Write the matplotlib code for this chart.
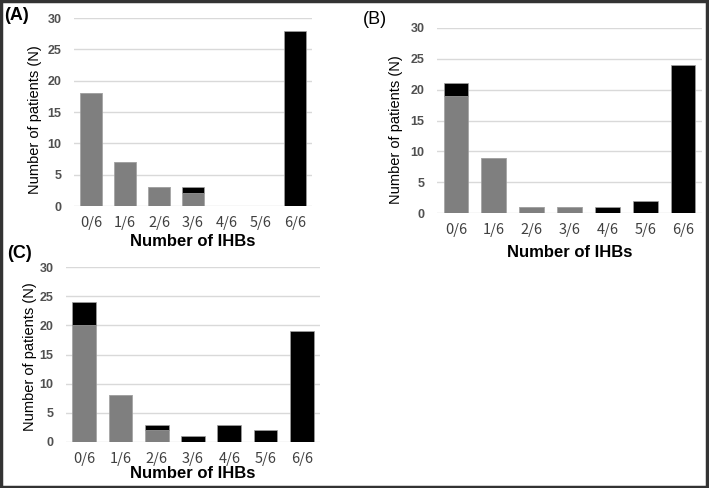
import matplotlib
matplotlib.use("Agg")
import matplotlib.pyplot as plt
from matplotlib.patches import Rectangle

categories = ["0/6", "1/6", "2/6", "3/6", "4/6", "5/6", "6/6"]
a_gray = [18, 7, 3, 2, 0, 0, 0]
a_black = [0, 0, 0, 1, 0, 0, 28]
b_gray = [19, 9, 1, 1, 0, 0, 0]
b_black = [2, 0, 0, 0, 1, 2, 24]
c_gray = [20, 8, 2, 0, 0, 0, 0]
c_black = [4, 0, 1, 1, 3, 2, 19]
y_ticks = [0, 5, 10, 15, 20, 25, 30]

GRAY = "#7f7f7f"
BLACK = "#000000"
GRID = "#d9d9d9"
TICKC = "#505050"

fig = plt.figure(figsize=(7.09, 4.88), dpi=100)
W, H = 709, 488

def add_panel(px0, px1, py_top, py_bot, gray, black, label, lab_xy, lab_weight, xlabpad, ylab_y, ylab_x):
    ax = fig.add_axes([px0 / W, 1 - py_bot / H, (px1 - px0) / W, (py_bot - py_top) / H])
    x = list(range(len(categories)))
    ax.bar(x, gray, width=0.65, color=GRAY, edgecolor="#a0a0a0", linewidth=0.5, zorder=3)
    ax.bar(x, black, width=0.65, bottom=gray, color=BLACK, edgecolor="#a0a0a0", linewidth=0.5, zorder=3)
    ax.set_xlim(-0.5, 6.5)
    ax.set_ylim(0, 30)
    ax.set_yticks(y_ticks)
    ax.set_xticks(x)
    ax.set_xticklabels(categories, family=["Noto Sans CJK JP", "DejaVu Sans"], fontsize=10.5, color="#404040")
    for t in ax.get_yticklabels():
        t.set_fontsize(9)
        t.set_fontweight("bold")
        t.set_color(TICKC)
        t.set_family("Liberation Sans")
    ax.tick_params(axis="y", length=0, pad=9)
    ax.tick_params(axis="x", length=0, pad=7)
    for s in ax.spines.values():
        s.set_visible(False)
    ax.yaxis.grid(True, color=GRID, linewidth=1, zorder=0)
    ax.set_axisbelow(True)
    ax.set_ylabel("Number of patients (N)", family="Liberation Sans", fontsize=10.5, color="#000000")
    ax.yaxis.set_label_coords((ylab_x - px0) / (px1 - px0), ylab_y, transform=ax.transAxes)
    ax.set_xlabel("Number of IHBs", family="Liberation Sans", fontsize=12, fontweight="bold", labelpad=xlabpad)
    fig.text(lab_xy[0] / W, 1 - lab_xy[1] / H, label, family="Liberation Sans", fontsize=13,
             fontweight=lab_weight, ha="left", va="center")
    return ax

add_panel(74, 312, 18, 206, a_gray, a_black, "(A)", (4, 16), "bold", 3, 0.46, 42)
add_panel(437, 702, 28, 213, b_gray, b_black, "(B)", (363, 19), "normal", 6, 0.45, 403)
add_panel(66, 320, 267, 442, c_gray, c_black, "(C)", (7, 254), "bold", 0, 0.49, 37)

fig.add_artist(Rectangle((0.0015, 0.002), 0.995, 0.995, transform=fig.transFigure,
                         fill=False, edgecolor="#333333", linewidth=2.5))

fig.savefig("out.png", dpi=100)
